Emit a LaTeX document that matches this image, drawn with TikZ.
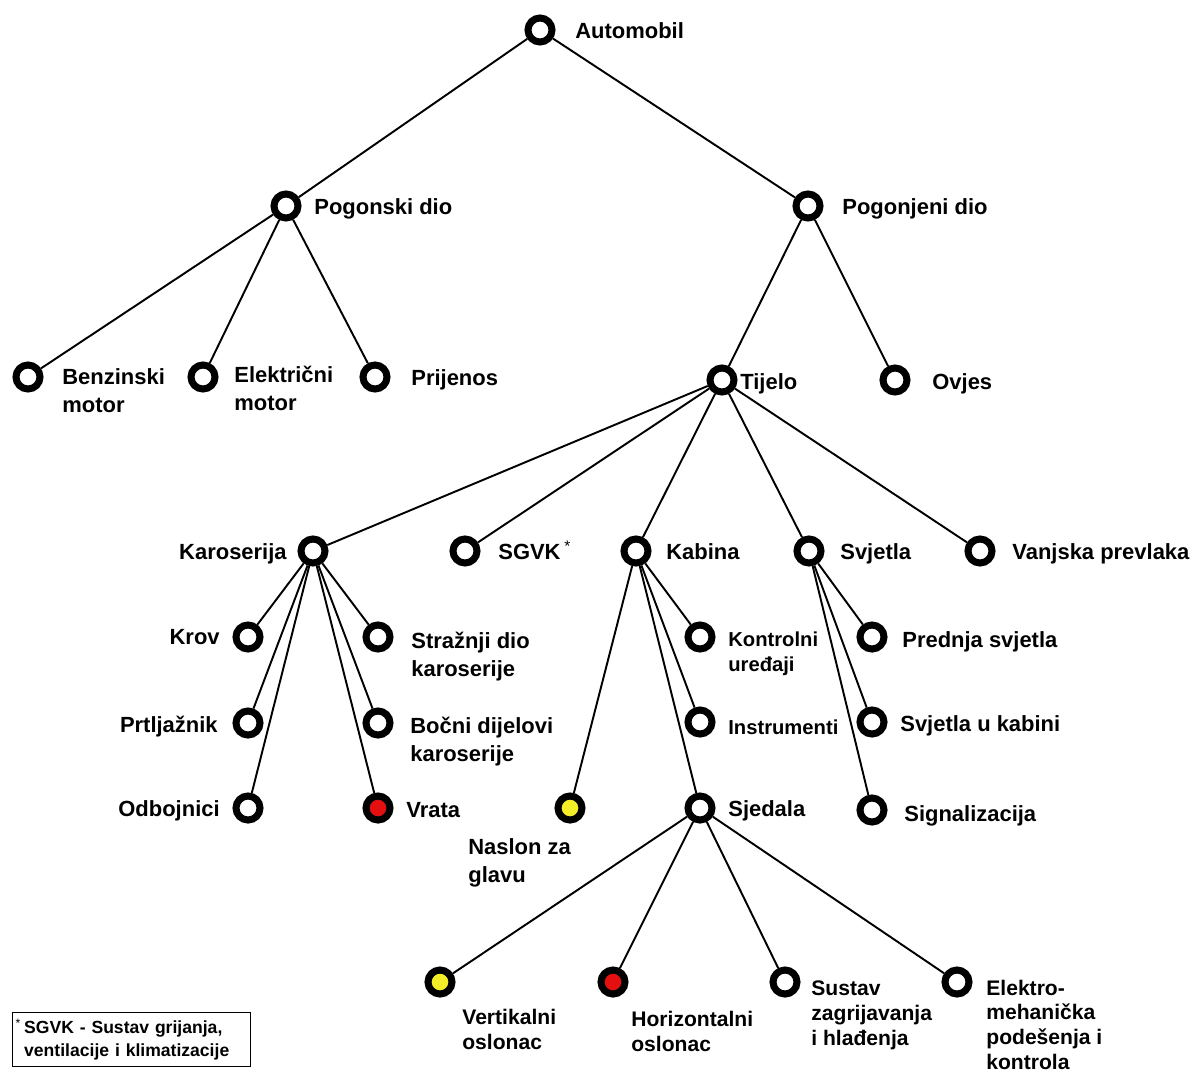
\documentclass[tikz,border=0pt]{standalone}
\usepackage{fontspec}
\setmainfont{Liberation Sans}
\definecolor{hitred}{RGB}{228,16,16}
\definecolor{hityellow}{RGB}{244,238,40}
\tikzset{
  every picture/.style={font=\bfseries},
  part/.style={circle,draw,line width=4pt,fill=white,minimum size=0.48cm,inner sep=0pt},
  redpart/.style={part,fill=hitred},
  yellowpart/.style={part,fill=hityellow},
  lbl/.style={inner sep=0pt,align=left,anchor=base west,font=\fontsize{12.5}{15.5}\selectfont\bfseries},
  lblleft/.style={lbl,anchor=base east},
  smalllbl/.style={lbl,font=\fontsize{11.5}{14}\selectfont\bfseries},
  lowlbl/.style={lbl,font=\fontsize{12}{14}\selectfont\bfseries},
  link/.style={line width=1.1pt},
}

\begin{document}
\begin{tikzpicture}[x=0.02cm,y=-0.02cm]
  \useasboundingbox (0,0) rectangle (1199,1073);
  % parts
  \node[part] (auto) at (540,30) {};
  \node[part] (pogonski) at (286,206) {};
  \node[part] (pogonjeni) at (808,206) {};
  \node[part] (benzin) at (28,377) {};
  \node[part] (elektr) at (203,377) {};
  \node[part] (prijenos) at (375,377) {};
  \node[part] (tijelo) at (722,380) {};
  \node[part] (ovjes) at (895,380) {};
  \node[part] (karoserija) at (313,551) {};
  \node[part] (sgvk) at (465,551) {};
  \node[part] (kabina) at (636,551) {};
  \node[part] (svjetla) at (809,551) {};
  \node[part] (prevlaka) at (980,551) {};
  \node[part] (krov) at (248,637) {};
  \node[part] (straznji) at (378,637) {};
  \node[part] (prtljaznik) at (248,723) {};
  \node[part] (bocni) at (378,723) {};
  \node[part] (odbojnici) at (248,808) {};
  \node[redpart] (vrata) at (378,808) {};
  \node[part] (kontrolni) at (700,637) {};
  \node[part] (instrumenti) at (700,722) {};
  \node[yellowpart] (naslon) at (570,808) {};
  \node[part] (sjedala) at (700,808) {};
  \node[part] (prednja) at (872,637) {};
  \node[part] (ukabini) at (872,722) {};
  \node[part] (signal) at (872,810) {};
  \node[yellowpart] (vertikalni) at (440,982) {};
  \node[redpart] (horizontalni) at (613,982) {};
  \node[part] (sustav) at (785,982) {};
  \node[part] (elmeh) at (957,982) {};
  % labels (multi-line ones sit on the baseline of their last line)
  \node[lbl] (auto-t) at (575,38) {Automobil};
  \node[lbl] (pogonski-t) at (314,214) {Pogonski dio};
  \node[lbl] (pogonjeni-t) at (842,214) {Pogonjeni dio};
  \node[lbl] (benzin-t) at (62,412) {Benzinski\\motor};
  \node[lbl] (elektr-t) at (234,410) {Električni\\motor};
  \node[lbl] (prijenos-t) at (411,385) {Prijenos};
  \node[lbl] (tijelo-t) at (740,389) {Tijelo};
  \node[lbl] (ovjes-t) at (932,389) {Ovjes};
  \node[lblleft] (karoserija-t) at (287,559) {Karoserija};
  \node[lbl] (sgvk-t) at (498,559) {SGVK\,\textsuperscript{\mdseries *}};
  \node[lbl] (kabina-t) at (666,559) {Kabina};
  \node[lbl] (svjetla-t) at (840,559) {Svjetla};
  \node[lbl] (prevlaka-t) at (1012,559) {Vanjska prevlaka};
  \node[lblleft] (krov-t) at (220,644) {Krov};
  \node[lbl] (straznji-t) at (411,676) {Stražnji dio\\karoserije};
  \node[lblleft] (prtljaznik-t) at (218,732) {Prtljažnik};
  \node[lbl] (bocni-t) at (410,761) {Bočni dijelovi\\karoserije};
  \node[lblleft] (odbojnici-t) at (220,816) {Odbojnici};
  \node[lbl] (vrata-t) at (406,817) {Vrata};
  \node[smalllbl] (kontrolni-t) at (728,671) {Kontrolni\\uređaji};
  \node[smalllbl] (instrumenti-t) at (728,734) {Instrumenti};
  \node[lbl] (naslon-t) at (468,882) {Naslon za\\glavu};
  \node[lbl] (sjedala-t) at (728,816) {Sjedala};
  \node[lbl] (prednja-t) at (902,647) {Prednja svjetla};
  \node[lbl] (ukabini-t) at (900,731) {Svjetla u kabini};
  \node[lbl] (signal-t) at (904,821) {Signalizacija};
  \node[lowlbl] (vertikalni-t) at (462,1049) {Vertikalni\\oslonac};
  \node[lowlbl] (horizontalni-t) at (631,1051) {Horizontalni\\oslonac};
  \node[lowlbl] (sustav-t) at (811,1045) {Sustav\\zagrijavanja\\i hlađenja};
  \node[lowlbl] (elmeh-t) at (986,1069) {Elektro-\\mehanička\\podešenja i\\kontrola};
  % legend
  \node[draw,line width=0.8pt,anchor=north west,minimum width=4.76cm,minimum height=1.08cm,
    text width=4.3cm,align=left,inner sep=0pt,font=\fontsize{10}{13}\selectfont\bfseries]
    (legend) at (12,1012) {\llap{\textsuperscript{\mdseries *}\,}SGVK - Sustav grijanja,\\ventilacije i klimatizacije};
  % tree
  \foreach \a/\b in {auto/pogonski,auto/pogonjeni,pogonski/benzin,pogonski/elektr,pogonski/prijenos,
    pogonjeni/tijelo,pogonjeni/ovjes,tijelo/karoserija,tijelo/sgvk,tijelo/kabina,tijelo/svjetla,tijelo/prevlaka,
    karoserija/krov,karoserija/prtljaznik,karoserija/odbojnici,karoserija/straznji,karoserija/bocni,karoserija/vrata,
    kabina/naslon,kabina/kontrolni,kabina/instrumenti,kabina/sjedala,
    svjetla/prednja,svjetla/ukabini,svjetla/signal,
    sjedala/vertikalni,sjedala/horizontalni,sjedala/sustav,sjedala/elmeh}
    \draw[link] (\a) -- (\b);
\end{tikzpicture}
\end{document}
